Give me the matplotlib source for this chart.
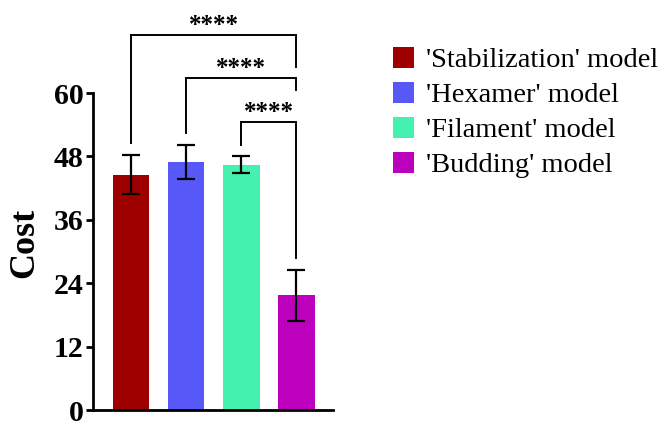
import numpy as np
import matplotlib
matplotlib.use('Agg')
import matplotlib.pyplot as plt

plt.rcParams['font.family'] = ['Liberation Serif', 'DejaVu Serif']

# datos: media y error de cada modelo
modelos = ["'Stabilization' model", "'Hexamer' model", "'Filament' model", "'Budding' model"]
costo = [44.5, 46.9, 46.4, 21.7]
error = [3.7, 3.2, 1.6, 4.8]
colores = ['#9E0000', '#5858F8', '#44F1AF', '#BD00BE']

# comparaciones (i, j, altura, fondo izq, fondo der)
comparaciones = [(0, 3, 71.0, 50.5, 65.0),
                 (1, 3, 62.8, 52.5, 60.6),
                 (2, 3, 54.6, 50.2, 28.8)]
etiqueta_sig = '****'

yticks = [0, 12, 24, 36, 48, 60]

fig = plt.figure(figsize=(6.58, 4.23), dpi=100)
ax = fig.add_axes([93/658, 13/423, 240/658, 317/423])

x = np.arange(len(modelos))
barras = ax.bar(x, costo, width=0.67, color=colores, label=modelos)
ax.errorbar(x, costo, yerr=error, fmt='none', ecolor='black',
            elinewidth=1.6, capsize=6.5, capthick=1.6)

# corchetes de significancia
for i, j, h, y1, y2 in comparaciones:
    ax.plot([i, i, j, j], [y1, h, h, y2], color='black', lw=1.4,
            clip_on=False, solid_joinstyle='miter')
    ax.text((i + j) / 2, h - 0.4, etiqueta_sig, ha='center', va='bottom',
            fontsize=18, fontweight='bold', clip_on=False)

ax.set_xlim(-0.69, 3.67)
ax.set_ylim(0, 60)
ax.set_yticks(yticks)
ax.set_xticks([])
ax.spines['top'].set_visible(False)
ax.spines['right'].set_visible(False)
ax.spines['left'].set_linewidth(2.0)
ax.spines['bottom'].set_linewidth(2.0)
ax.tick_params(axis='y', length=5, width=2.0, pad=2, labelsize=21.5)
for t in ax.get_yticklabels():
    t.set_fontweight('bold')
ax.set_ylabel('Cost', fontsize=26, fontweight='bold')
ax.yaxis.set_label_coords(-52/240, (410 - 243) / 317)

fig.legend(handles=barras, labels=modelos, loc='upper left',
           bbox_to_anchor=(393/658, 1 - 47/423), frameon=False,
           fontsize=20.5, handlelength=0.75, handleheight=0.75,
           handletextpad=0.4, labelspacing=0.3, borderpad=0,
           borderaxespad=0)

plt.savefig('out.png', dpi=100)
